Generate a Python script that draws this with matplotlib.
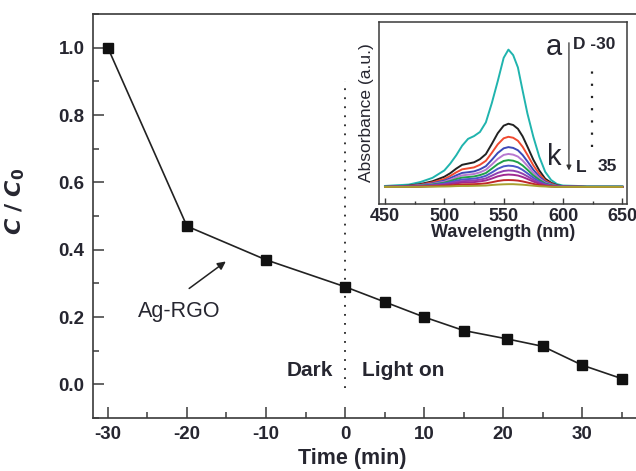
import numpy as np
import matplotlib
matplotlib.use("Agg")
import matplotlib.pyplot as plt
from matplotlib.ticker import MultipleLocator, FormatStrFormatter

plt.rcParams['font.family'] = ['Liberation Sans', 'DejaVu Sans']
plt.rcParams['axes.unicode_minus'] = False

# main kinetics data
time_min = [-30, -20, -10, 0, 5, 10, 15, 20.5, 25, 30, 35]
c_c0 = [1.0, 0.47, 0.37, 0.29, 0.245, 0.20, 0.16, 0.135, 0.113, 0.057, 0.017]

# inset spectra (a -> k), absorbance in arbitrary units
wavelength = [450, 470, 480, 490, 500, 505, 510, 515, 520, 525, 530, 535, 540, 545,
              550, 554, 558, 562, 566, 570, 575, 580, 585, 590, 595, 600, 620, 650]
spec_a = [0.007, 0.017, 0.036, 0.066, 0.12, 0.17, 0.23, 0.30, 0.35, 0.37, 0.40, 0.47, 0.61, 0.77,
          0.94, 1.0, 0.96, 0.87, 0.70, 0.535, 0.365, 0.22, 0.11, 0.05, 0.02, 0.01, 0.005, 0.005]
spec_b = [0, 0.009, 0.021, 0.041, 0.074, 0.10, 0.133, 0.161, 0.17, 0.179, 0.202, 0.239, 0.313, 0.391,
          0.446, 0.46, 0.451, 0.423, 0.368, 0.294, 0.198, 0.12, 0.06, 0.03, 0.012, 0.005, 0, 0]
spec_c = [0, 0.007, 0.016, 0.033, 0.058, 0.08, 0.106, 0.128, 0.135, 0.142, 0.161, 0.19, 0.248, 0.31,
          0.354, 0.365, 0.358, 0.336, 0.292, 0.234, 0.157, 0.095, 0.047, 0.024, 0.009, 0.004, 0, 0]
spec_d = [0, 0.006, 0.013, 0.026, 0.046, 0.064, 0.084, 0.102, 0.107, 0.113, 0.128, 0.151, 0.197, 0.247,
          0.281, 0.29, 0.284, 0.267, 0.232, 0.186, 0.125, 0.075, 0.038, 0.019, 0.008, 0.003, 0, 0]
spec_e = [0, 0.005, 0.011, 0.022, 0.038, 0.053, 0.07, 0.084, 0.089, 0.094, 0.106, 0.125, 0.163, 0.204,
          0.233, 0.24, 0.235, 0.221, 0.192, 0.154, 0.103, 0.062, 0.031, 0.016, 0.006, 0.002, 0, 0]
spec_f = [0, 0.004, 0.009, 0.018, 0.031, 0.043, 0.057, 0.068, 0.072, 0.076, 0.086, 0.101, 0.133, 0.166,
          0.189, 0.195, 0.191, 0.179, 0.156, 0.125, 0.084, 0.051, 0.025, 0.013, 0.005, 0.002, 0, 0]
spec_g = [0, 0.003, 0.007, 0.014, 0.025, 0.034, 0.045, 0.054, 0.057, 0.06, 0.068, 0.081, 0.105, 0.132,
          0.15, 0.155, 0.152, 0.143, 0.124, 0.099, 0.067, 0.04, 0.02, 0.01, 0.004, 0.002, 0, 0]
spec_h = [0, 0.002, 0.005, 0.011, 0.019, 0.026, 0.035, 0.042, 0.044, 0.047, 0.053, 0.062, 0.082, 0.102,
          0.116, 0.12, 0.118, 0.11, 0.096, 0.077, 0.052, 0.031, 0.016, 0.008, 0.003, 0.001, 0, 0]
spec_i = [0, 0.002, 0.004, 0.008, 0.014, 0.02, 0.026, 0.032, 0.033, 0.035, 0.04, 0.047, 0.061, 0.077,
          0.087, 0.09, 0.088, 0.083, 0.072, 0.058, 0.039, 0.023, 0.012, 0.006, 0.002, 0.001, 0, 0]
spec_j = [0, 0.001, 0.002, 0.005, 0.008, 0.011, 0.015, 0.018, 0.019, 0.02, 0.022, 0.026, 0.034, 0.043,
          0.049, 0.05, 0.049, 0.046, 0.04, 0.032, 0.022, 0.013, 0.007, 0.003, 0.001, 0, 0, 0]
spec_k = [0, 0, 0.001, 0.002, 0.003, 0.004, 0.006, 0.007, 0.007, 0.008, 0.009, 0.01, 0.014, 0.017,
          0.019, 0.02, 0.02, 0.018, 0.016, 0.013, 0.009, 0.005, 0.003, 0.001, 0, 0, 0, 0]
spectra = [spec_a, spec_b, spec_c, spec_d, spec_e, spec_f, spec_g, spec_h, spec_i, spec_j, spec_k]
spec_colors = ['#20b4ae', '#222222', '#f04a30', '#3c48b8', '#b878d0', '#20a048',
               '#4a58c8', '#9040b0', '#a02890', '#c02828', '#a8a030']

txt = '#262630'
spc = '#3a3a3a'

fig = plt.figure(figsize=(6.36, 4.71), dpi=100)
ax = fig.add_axes([0.146, 0.1125, 0.854, 0.8575])

ax.plot(time_min, c_c0, color='#222222', lw=1.2, marker='s', ms=6.5, mfc='#111111', mec='#111111', zorder=3)
ax.vlines(0, -0.01, 0.9, colors='#222222', linestyles=(0, (1, 4)), lw=1.3)

ax.set_xlim(-31.9, 36.8)
ax.set_ylim(-0.1, 1.1)
ax.xaxis.set_major_locator(MultipleLocator(10))
ax.xaxis.set_minor_locator(MultipleLocator(5))
ax.yaxis.set_major_locator(MultipleLocator(0.2))
ax.yaxis.set_minor_locator(MultipleLocator(0.1))
ax.yaxis.set_major_formatter(FormatStrFormatter('%.1f'))
ax.tick_params(which='both', direction='in', colors=spc, labelcolor=txt, width=1.1)
ax.tick_params(which='major', length=8, labelsize=13.5, pad=6)
ax.tick_params(which='minor', length=4)
ax.spines['right'].set_visible(False)
for s in ['left', 'bottom', 'top']:
    ax.spines[s].set_color(spc)
    ax.spines[s].set_linewidth(1.2)
for lab in ax.get_xticklabels() + ax.get_yticklabels():
    lab.set_fontweight('bold')

ax.set_xlabel('Time (min)', fontsize=15.5, fontweight='bold', color=txt)
ax.xaxis.set_label_coords(0.477, -0.075)
ax.set_ylabel(r'$\mathbfit{C}\ \mathbf{/}\ \mathbfit{C}_{\mathbf{0}}$', fontsize=16, color=txt)
ax.yaxis.set_label_coords(-0.122, 0.537)

ax.annotate('', xy=(-14.8, 0.37), xytext=(-20.0, 0.28),
            arrowprops=dict(arrowstyle='-|>', color='#222222', lw=1.1, mutation_scale=12))
ax.text(-21.0, 0.215, 'Ag-RGO', fontsize=15.5, color=txt, ha='center', va='center')
ax.text(-1.5, 0.04, 'Dark', fontsize=15, fontweight='bold', color=txt, ha='right', va='center')
ax.text(2.2, 0.04, 'Light on', fontsize=15, fontweight='bold', color=txt, ha='left', va='center')

# inset
ins = fig.add_axes([0.596, 0.567, 0.390, 0.386])
for spec, col in zip(spectra, spec_colors):
    ins.plot(wavelength, spec, color=col, lw=1.4)
ins.set_xlim(445, 654)
ins.set_ylim(-0.124, 1.2)
ins.set_yticks([])
ins.xaxis.set_major_locator(MultipleLocator(50))
ins.xaxis.set_minor_locator(MultipleLocator(25))
ins.tick_params(which='both', direction='in', colors=spc, labelcolor=txt, width=1.0)
ins.tick_params(which='major', length=4, labelsize=13, pad=3)
ins.tick_params(which='minor', length=2.5)
for s in ins.spines.values():
    s.set_color(spc)
    s.set_linewidth(1.1)
for lab in ins.get_xticklabels():
    lab.set_fontweight('bold')
ins.set_xlabel('Wavelength (nm)', fontsize=13, fontweight='bold', color=txt, labelpad=-1)
ins.set_ylabel('Absorbance (a.u.)', fontsize=12.5, color=txt, labelpad=4)

ins.annotate('', xy=(605, 0.10), xytext=(605, 1.07),
             arrowprops=dict(arrowstyle='-|>', color='#333333', lw=0.9, mutation_scale=7))
ins.text(599, 1.02, 'a', fontsize=21, color=txt, ha='right', va='center')
ins.text(599, 0.22, 'k', fontsize=21, color=txt, ha='right', va='center')
ins.text(608, 1.04, 'D -30', fontsize=12.5, fontweight='bold', color=txt, ha='left', va='center')
ins.text(611, 0.14, 'L', fontsize=12.5, fontweight='bold', color=txt, ha='left', va='center')
ins.text(629, 0.15, '35', fontsize=12.5, fontweight='bold', color=txt, ha='left', va='center')
ins.vlines(624.5, 0.29, 0.87, colors='#222222', linestyles=(0, (1, 4.5)), lw=1.6)

fig.savefig('out.png', dpi=100)
